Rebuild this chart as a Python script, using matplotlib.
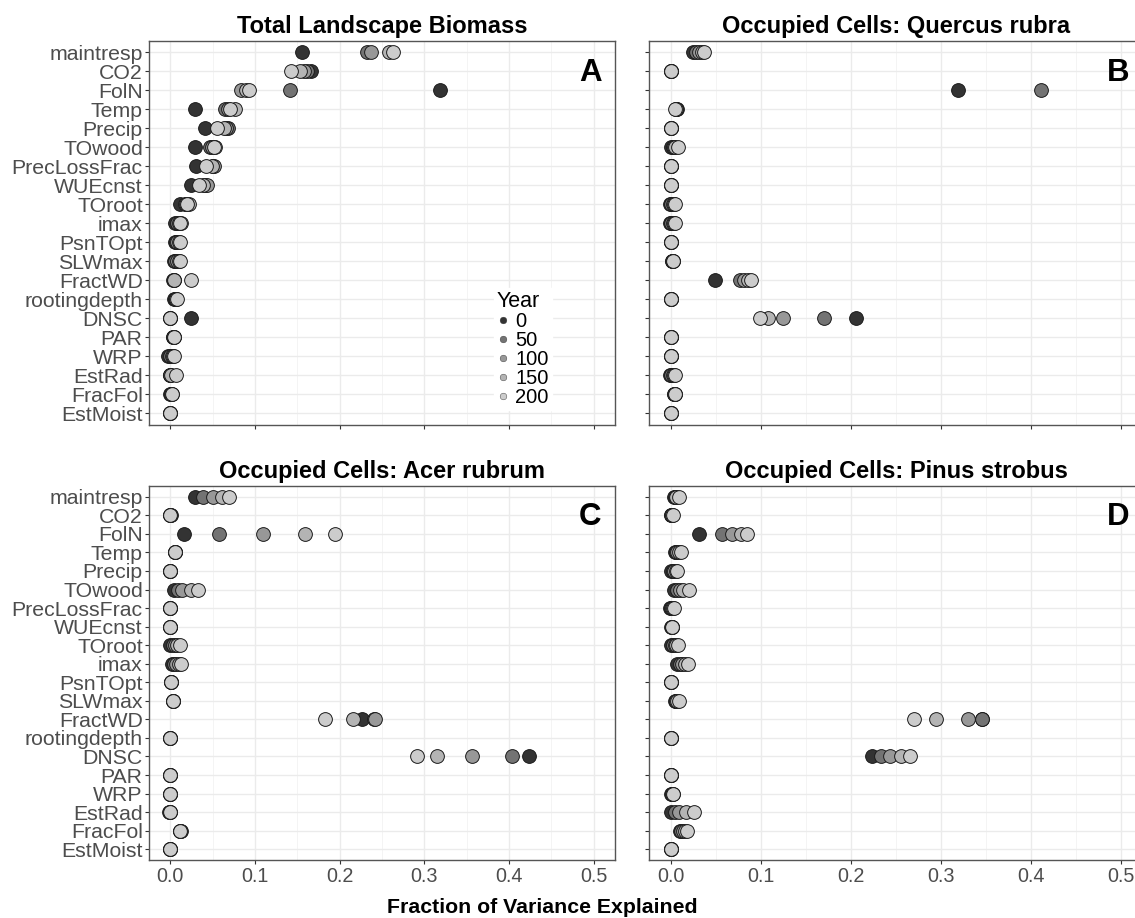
import matplotlib
matplotlib.use("Agg")
import matplotlib.pyplot as plt
import numpy as np
from matplotlib.lines import Line2D
from matplotlib.ticker import MultipleLocator

plt.rcParams['font.family'] = ['Liberation Sans', 'DejaVu Sans']

variables = ["maintresp", "CO2", "FolN", "Temp", "Precip", "TOwood", "PrecLossFrac",
             "WUEcnst", "TOroot", "imax", "PsnTOpt", "SLWmax", "FractWD", "rootingdepth",
             "DNSC", "PAR", "WRP", "EstRad", "FracFol", "EstMoist"]
years = [0, 50, 100, 150, 200]
year_colors = ["#333333", "#737373", "#989898", "#B4B4B4", "#CCCCCC"]
titles = ["Total Landscape Biomass", "Occupied Cells: Quercus rubra",
          "Occupied Cells: Acer rubrum", "Occupied Cells: Pinus strobus"]
letters = ["A", "B", "C", "D"]
x_ticks = [0.0, 0.1, 0.2, 0.3, 0.4, 0.5]
nan = np.nan

# Panel A: Total Landscape Biomass (one list per year, in variable order)
A_y0 = [0.155, 0.166, 0.318, 0.029, 0.041, 0.029, 0.031, 0.024, 0.011, 0.006, 0.006, 0.005, 0.003, 0.005, 0.024, 0.003, -0.002, 0.000, 0.000, 0.000]
A_y50 = [0.232, 0.162, 0.142, 0.065, 0.068, 0.047, 0.050, 0.041, 0.017, 0.008, 0.007, 0.006, 0.004, 0.006, 0.000, 0.003, 0.000, 0.000, 0.001, 0.000]
A_y100 = [0.237, 0.158, 0.083, 0.068, 0.066, 0.049, 0.052, 0.043, 0.019, 0.010, 0.008, 0.008, 0.005, 0.007, 0.000, 0.004, 0.002, 0.000, 0.001, 0.000]
A_y150 = [0.258, 0.153, 0.089, 0.077, 0.064, 0.053, 0.049, 0.039, 0.022, 0.013, 0.010, 0.010, 0.005, 0.007, 0.000, 0.004, 0.003, 0.001, 0.002, 0.000]
A_y200 = [0.263, 0.143, 0.093, 0.071, 0.055, 0.052, 0.042, 0.034, 0.020, 0.011, 0.011, 0.011, 0.024, 0.008, 0.000, 0.004, 0.005, 0.007, 0.002, 0.000]

# Panel B: Quercus rubra
B_y0 = [0.024, 0.000, 0.319, 0.007, 0.000, 0.000, 0.000, 0.000, -0.001, -0.001, 0.000, 0.001, 0.049, 0.000, 0.205, 0.000, 0.000, -0.001, 0.003, 0.000]
B_y50 = [0.028, 0.000, 0.411, 0.006, 0.000, 0.002, 0.000, 0.000, 0.000, 0.000, 0.000, 0.001, 0.077, 0.000, 0.170, 0.000, 0.000, 0.000, 0.003, 0.000]
B_y100 = [0.031, 0.000, nan, 0.005, 0.000, 0.003, 0.000, 0.000, 0.002, 0.002, 0.000, 0.002, 0.081, 0.000, 0.124, 0.000, 0.000, 0.002, 0.004, 0.000]
B_y150 = [0.034, 0.000, nan, 0.005, 0.000, 0.004, 0.000, 0.000, 0.003, 0.003, 0.000, 0.002, 0.085, 0.000, 0.108, 0.000, 0.000, 0.003, 0.004, 0.000]
B_y200 = [0.037, 0.000, nan, 0.004, 0.000, 0.008, 0.000, 0.000, 0.004, 0.004, 0.000, 0.002, 0.089, 0.000, 0.099, 0.000, 0.000, 0.004, 0.004, 0.000]

# Panel C: Acer rubrum
C_y0 = [0.029, 0.001, 0.016, 0.006, 0.000, 0.004, 0.000, 0.000, 0.000, 0.002, 0.001, 0.003, 0.226, 0.000, 0.423, 0.000, 0.000, -0.001, 0.013, 0.000]
C_y50 = [0.039, 0.000, 0.058, 0.006, 0.000, 0.009, 0.000, 0.000, 0.003, 0.005, 0.001, 0.003, 0.241, 0.000, 0.404, 0.000, 0.000, 0.000, 0.012, 0.000]
C_y100 = [0.050, 0.000, 0.110, 0.006, 0.000, 0.014, 0.000, 0.000, 0.006, 0.007, 0.001, 0.003, 0.242, 0.000, 0.356, 0.000, 0.000, 0.000, 0.012, 0.000]
C_y150 = [0.061, 0.000, 0.159, 0.006, 0.000, 0.024, 0.000, 0.000, 0.008, 0.010, 0.001, 0.003, 0.216, 0.000, 0.315, 0.000, 0.000, 0.000, 0.011, 0.000]
C_y200 = [0.069, 0.000, 0.195, 0.006, 0.000, 0.033, 0.000, 0.000, 0.011, 0.013, 0.001, 0.003, 0.183, 0.000, 0.291, 0.000, 0.000, 0.000, 0.011, 0.000]

# Panel D: Pinus strobus
D_y0 = [0.003, 0.000, 0.031, 0.004, 0.000, 0.003, -0.001, 0.000, 0.000, 0.007, 0.000, 0.004, 0.345, 0.000, 0.223, 0.000, 0.000, 0.000, 0.010, 0.000]
D_y50 = [0.004, 0.000, 0.057, 0.006, 0.002, 0.007, 0.000, 0.001, 0.002, 0.010, 0.000, 0.005, 0.345, 0.000, 0.233, 0.000, 0.001, 0.004, 0.011, 0.000]
D_y100 = [0.005, 0.001, 0.068, 0.007, 0.003, 0.010, 0.001, 0.001, 0.004, 0.012, 0.000, 0.006, 0.330, 0.000, 0.243, 0.000, 0.001, 0.009, 0.013, 0.000]
D_y150 = [0.006, 0.001, 0.078, 0.009, 0.005, 0.013, 0.002, 0.001, 0.006, 0.015, 0.000, 0.007, 0.294, 0.000, 0.255, 0.000, 0.002, 0.017, 0.015, 0.000]
D_y200 = [0.009, 0.002, 0.084, 0.011, 0.007, 0.020, 0.003, 0.001, 0.008, 0.019, 0.000, 0.009, 0.270, 0.000, 0.266, 0.000, 0.002, 0.026, 0.018, 0.000]

panels = [
    [A_y0, A_y50, A_y100, A_y150, A_y200],
    [B_y0, B_y50, B_y100, B_y150, B_y200],
    [C_y0, C_y50, C_y100, C_y150, C_y200],
    [D_y0, D_y50, D_y100, D_y150, D_y200],
]

W, H = 1135, 918
fig = plt.figure(figsize=(W / 100, H / 100), dpi=100)
fig.patch.set_facecolor("white")

# axes rectangles in pixels: left, top, right, bottom
rects = [
    (149, 40.7, 615, 424.7),
    (648.5, 40.7, 1143.5, 424.7),
    (149, 485.6, 615, 860.4),
    (648.5, 485.6, 1143.5, 860.4),
]

ypos = np.arange(len(variables))
axes = []
for i, (l, t, r, b) in enumerate(rects):
    ax = fig.add_axes([l / W, 1 - b / H, (r - l) / W, (b - t) / H])
    axes.append(ax)
    ax.set_facecolor("white")
    ax.set_xlim(-0.025, 0.525)
    ax.set_ylim(len(variables) - 1 + 0.6, -0.6)
    ax.xaxis.set_major_locator(MultipleLocator(0.1))
    ax.xaxis.set_minor_locator(MultipleLocator(0.05))
    ax.set_yticks(ypos)
    ax.grid(which="major", color="#EBEBEB", linewidth=1.0, zorder=0)
    ax.grid(which="minor", axis="x", color="#F2F2F2", linewidth=0.6, zorder=0)
    ax.set_axisbelow(True)
    ax.tick_params(axis="both", which="major", length=3, width=0.8, color="#333333",
                   labelcolor="#4D4D4D")
    ax.tick_params(axis="y", labelsize=15.3, pad=1.5)
    ax.tick_params(axis="x", labelsize=14.2, pad=1.5)
    ax.tick_params(axis="x", which="minor", length=0)
    if i in (0, 2):
        ax.set_yticklabels(variables)
    else:
        ax.set_yticklabels([])
    if i in (2, 3):
        ax.set_xticks(x_ticks)
        ax.set_xticklabels([f"{v:.1f}" for v in x_ticks])
    else:
        ax.set_xticklabels([])
    for sp in ax.spines.values():
        sp.set_color("#555555")
        sp.set_linewidth(1.0)

    for k, (vals, col) in enumerate(zip(panels[i], year_colors)):
        ax.scatter(vals, ypos, s=98, c=col, edgecolors="#1a1a1a", linewidths=0.7,
                   zorder=3 + k, clip_on=False)

    ax.set_title(titles[i], fontsize=17, fontweight="bold", color="black", pad=5.5)
    ax.text(0.509, 0.915, letters[i], fontsize=22.5, fontweight="bold", ha="right",
            va="center", transform=ax.get_xaxis_transform(), zorder=10)

# legend in panel A
handles = [Line2D([0], [0], marker="o", linestyle="none", markersize=4.8,
                  markerfacecolor=c, markeredgecolor="#333333", markeredgewidth=0.3)
           for c in year_colors]
leg = axes[0].legend(handles, [str(y) for y in years], title="Year",
                     loc="upper left", bbox_to_anchor=(494 / W, 1 - 288 / H),
                     bbox_transform=fig.transFigure, fontsize=14.5, title_fontsize=15.5,
                     frameon=True, framealpha=1.0, edgecolor="white", fancybox=False,
                     labelspacing=0.0, handlelength=0.6, handletextpad=0.3,
                     borderpad=0.15, borderaxespad=0, alignment="left")
for txt in leg.get_texts():
    txt.set_color("black")

fig.text(542 / W, 1 - 913 / H, "Fraction of Variance Explained", fontsize=15.3,
         fontweight="bold", ha="center", va="baseline")

fig.savefig("out.png", dpi=100, facecolor="white")
